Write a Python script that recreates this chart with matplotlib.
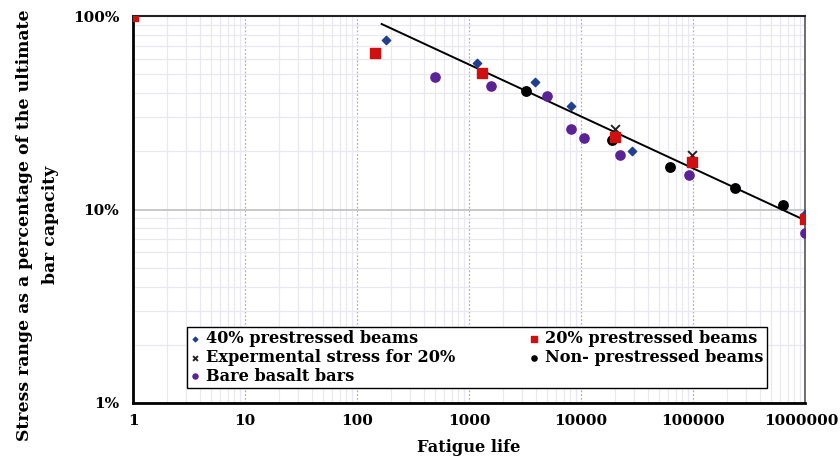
import numpy as np
import matplotlib.pyplot as plt
import matplotlib.transforms as mtransforms
from matplotlib.ticker import FixedLocator, FixedFormatter, LogLocator, NullFormatter

# data (fatigue life, stress range %)
p40_x = [181, 1187, 3909, 8140, 28700, 1000000]
p40_y = [75.2, 57.4, 45.4, 34.4, 20.1, 9.44]

p20_x = [1, 146, 1315, 20100, 97300, 1000000]
p20_y = [100, 64.1, 50.7, 23.7, 17.6, 8.93]

exp_x = [20100, 97300]
exp_y = [26.0, 19.1]

non_x = [1, 3228, 18900, 62700, 239000, 636000]
non_y = [100, 41.1, 22.8, 16.5, 12.9, 10.5]

bare_x = [497, 1563, 5000, 8140, 10700, 22300, 91300, 1000000]
bare_y = [48.2, 43.5, 38.5, 26.2, 23.4, 19.2, 15.0, 7.53]

fit_x = [166, 1000000]
fit_y = [90.9, 8.8]

xticks = [1, 10, 100, 1000, 10000, 100000, 1000000]
xlabels = ['1', '10', '100', '1000', '10000', '100000', '1000000']
yticks = [1, 10, 100]
ylabels = ['1%', '10%', '100%']

plt.rcParams['font.family'] = 'DejaVu Serif'
plt.rcParams['font.weight'] = 'bold'

fig = plt.figure(figsize=(8.4, 4.59), dpi=100)
ax = fig.add_axes([133/840, 1-403/459, 672/840, 387/459])

ax.set_xscale('log')
ax.set_yscale('log')
ax.set_xlim(1, 1000000)
ax.set_ylim(1, 100)

# grid
ax.xaxis.set_minor_locator(LogLocator(base=10, subs=np.arange(2, 10)))
ax.yaxis.set_minor_locator(LogLocator(base=10, subs=np.arange(2, 10)))
ax.xaxis.set_minor_formatter(NullFormatter())
ax.yaxis.set_minor_formatter(NullFormatter())
ax.grid(True, which='minor', axis='both', color='#e8e8ee', lw=0.9)
ax.grid(True, which='major', axis='x', color='#b0b0b8', lw=0.9, ls=(0, (1.5, 1.5)))
ax.grid(True, which='major', axis='y', color='#c4c4c4', lw=1.3)
ax.set_axisbelow(True)

ax.plot(fit_x, fit_y, color='black', lw=1.4, zorder=3)

ax.scatter(p40_x, p40_y, marker='D', s=18, color='#1f3f8f', zorder=4, label='40% prestressed beams')
ax.scatter(exp_x, exp_y, marker='x', s=40, color='#222222', lw=1.4, zorder=4, label='Expermental stress for 20%')
ax.scatter(bare_x, bare_y, marker='o', s=44, color='#5b2296', zorder=4, label='Bare basalt bars')
ax.scatter(p20_x, p20_y, marker='s', s=44, color='#d01010', zorder=5, label='20% prestressed beams')
ax.scatter(non_x, non_y, marker='o', s=46, color='black', zorder=4, label='Non- prestressed beams')

ax.xaxis.set_major_locator(FixedLocator(xticks))
ax.xaxis.set_major_formatter(FixedFormatter(xlabels))
ax.yaxis.set_major_locator(FixedLocator(yticks))
ax.yaxis.set_major_formatter(FixedFormatter(ylabels))
ax.tick_params(which='both', length=0, labelsize=11.0)
ax.tick_params(axis='x', pad=8)
ax.tick_params(axis='y', pad=10)

for s in ['left', 'bottom']:
    ax.spines[s].set_linewidth(2)
    ax.spines[s].set_color('black')
ax.spines['top'].set_linewidth(1.5)
ax.spines['top'].set_color('#222222')
ax.spines['right'].set_linewidth(1.2)
ax.spines['right'].set_color('#555555')

ax.set_xlabel('Fatigue life', fontsize=11.7, fontweight='bold', labelpad=8)
ax.set_ylabel('Stress range as a percentage of the ultimate\nbar capacity', fontsize=12.4,
              fontweight='bold', linespacing=1.75, va='center')
ax.yaxis.set_label_coords(-0.142, 0.46)

leg = ax.legend(loc='lower left', bbox_to_anchor=(0.08, 0.039, 0.863, 0.152), mode='expand',
                ncol=2, fontsize=11.6, frameon=True, fancybox=False, edgecolor='black',
                framealpha=1, borderaxespad=0, handlelength=0.6, handletextpad=0.4,
                labelspacing=0.1, borderpad=0.2, markerscale=0.55, columnspacing=1.0)
leg.get_frame().set_linewidth(1.0)

# keep the last x label inside the picture
last = ax.xaxis.get_major_ticks()[-1].label1
last.set_transform(last.get_transform() + mtransforms.ScaledTranslation(-4/100, 0, fig.dpi_scale_trans))

fig.savefig('out.png', dpi=100)
